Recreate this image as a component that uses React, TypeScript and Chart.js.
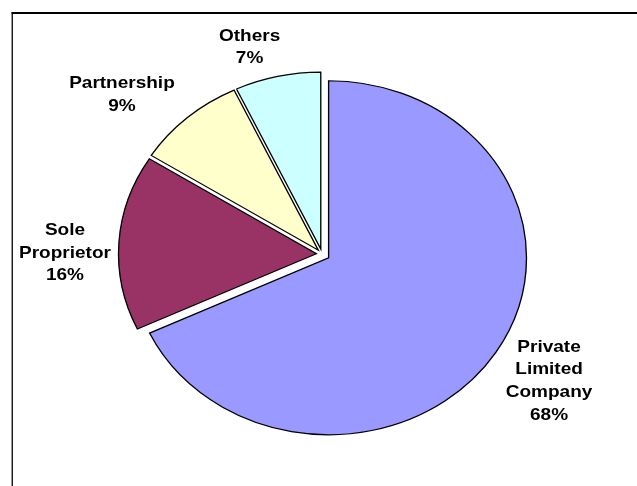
import React, { useEffect, useRef } from "react";
import { Chart, registerables } from "chart.js";

Chart.register(...registerables);

// ---- data ----
const CATEGORIES = ["Private Limited Company", "Sole Proprietor", "Partnership", "Others"];
const LABEL_LINES = [["Private", "Limited", "Company"], ["Sole", "Proprietor"], ["Partnership"], ["Others"]];
const SHARES = [68, 16, 9, 7];

// ---- styles ----
const COLORS = ["#9999FF", "#993366", "#FFFFCC", "#CCFFFF"];
const X_STRETCH = 1.118;
const EXPLODE = [7, 5, 5, 5];
const LABEL_DIST = [1.353, 1.299, 1.354, 1.224];
const LABEL_SHIFT_DEG = [-0.4, -3.35, -6.9, -4.8];
const LINE_H = 22.7;
const FONT = "bold 17px 'Liberation Sans', Arial, sans-serif";

const ellipsePie = {
  id: "ellipsePie",
  beforeDraw(chart: any) {
    const ctx = chart.ctx;
    ctx.save();
    ctx.fillStyle = "#000";
    ctx.fillRect(11.6, 12, 1.3, 700);
    ctx.fillRect(11.6, 12, 800, 2);
    ctx.restore();
  },
  beforeDatasetDraw(chart: any, args: any) {
    const arcs = args.meta.data;
    if (!arcs.length) return;
    const ctx = chart.ctx;
    const cx = arcs[0].x;
    const cy = arcs[0].y;
    ctx.save();
    ctx.translate(cx, cy);
    ctx.scale(X_STRETCH, 1);
    ctx.translate(-cx, -cy);
    arcs.forEach((arc: any, i: number) => {
      const mid = (arc.startAngle + arc.endAngle) / 2;
      ctx.save();
      ctx.translate(Math.cos(mid) * EXPLODE[i], Math.sin(mid) * EXPLODE[i]);
      arc.draw(ctx);
      ctx.restore();
    });
    ctx.restore();
    return false;
  },
  afterDatasetsDraw(chart: any) {
    const ctx = chart.ctx;
    const meta = chart.getDatasetMeta(0);
    const total = SHARES.reduce((a, b) => a + b, 0);
    meta.data.forEach((arc: any, i: number) => {
      const mid = (arc.startAngle + arc.endAngle) / 2 + (LABEL_SHIFT_DEG[i] * Math.PI) / 180;
      const r = arc.outerRadius * LABEL_DIST[i];
      const lx = arc.x + Math.cos(mid) * r * X_STRETCH;
      const ly = arc.y + Math.sin(mid) * r;
      const lines = [...LABEL_LINES[i], Math.round((SHARES[i] / total) * 100) + "%"];
      ctx.save();
      ctx.translate(lx, ly);
      ctx.scale(X_STRETCH, 1);
      ctx.font = FONT;
      ctx.fillStyle = "#000";
      ctx.textAlign = "center";
      ctx.textBaseline = "middle";
      lines.forEach((t, j) => {
        ctx.fillText(t, 0, (j - (lines.length - 1) / 2) * LINE_H);
      });
      ctx.restore();
    });
  },
};

export default function App() {
  const ref = useRef<HTMLCanvasElement | null>(null);
  useEffect(() => {
    if (!ref.current) return;
    const chart = new Chart(ref.current, {
      type: "pie",
      data: {
        labels: CATEGORIES,
        datasets: [
          {
            data: SHARES,
            backgroundColor: COLORS,
            borderColor: "#000",
            borderWidth: 1.2,
            borderJoinStyle: "miter",
          } as any,
        ],
      },
      options: {
        responsive: false,
        animation: false,
        events: [],
        radius: 177,
        layout: { padding: { left: 7, right: 0, top: 22, bottom: 0 } },
        plugins: {
          legend: { display: false },
          tooltip: { enabled: false },
        },
      } as any,
      plugins: [ellipsePie],
    });
    return () => chart.destroy();
  }, []);
  return (
    <div style={{ position: "absolute", left: 0, top: 0, width: 637, height: 486, background: "#fff" }}>
      <canvas ref={ref} width={637} height={486} style={{ display: "block" }} />
    </div>
  );
}
